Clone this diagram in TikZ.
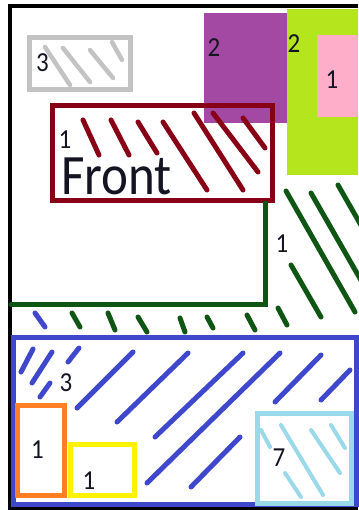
\documentclass[tikz,border=0pt]{standalone}
\usepackage{fontspec}
\setmainfont{Carlito}
\usetikzlibrary{calc}
\definecolor{pgray}{HTML}{C3C3C3}
\definecolor{ppurple}{HTML}{A349A4}
\definecolor{plime}{HTML}{B5E61D}
\definecolor{ppink}{HTML}{FFAEC9}
\definecolor{pmaroon}{HTML}{880015}
\definecolor{pgreen}{RGB}{15,85,20}
\definecolor{pblue}{HTML}{3F48CC}
\definecolor{plblue}{HTML}{99D9EA}
\definecolor{porange}{HTML}{FF7F27}
\definecolor{pyellow}{HTML}{FFF200}
\definecolor{ptext}{RGB}{20,20,35}
\tikzset{
  num/.style={inner sep=0pt, text=ptext, font=\fontsize{25}{25}\selectfont, yscale=1.1},
  hatch/.style={line width=5pt, line cap=round},
}
\begin{document}
\begin{tikzpicture}[x=1pt,y=-1pt]
\useasboundingbox (0,0) rectangle (358,510);
\fill[white] (0,0) rectangle (358,510);
% black frame
\draw[line width=4pt] (358,6.5) -- (9.5,6.5) -- (9.5,508.5) -- (358,508.5);
% gray box
\draw[pgray, line width=5pt] (29.5,37.5) rectangle (130.5,89.5);
\draw[hatch, pgray, line width=4.5pt] (45,47) -- (70,85);
\draw[hatch, pgray, line width=4.5pt] (63,48) -- (90,82);
\draw[hatch, pgray, line width=4.5pt] (90,50) -- (113,78);
\draw[hatch, pgray, line width=4.5pt] (112,42) -- (122,60);
\node[num] (g3) at (42.5,62.5) {3};
% purple, lime, pink
\fill[ppurple] (204,13) rectangle (287,123);
\fill[plime] (287,9) rectangle (358,175);
\fill[ppink] (317,35) rectangle (358,117);
\node[num] (p2) at (214,48) {2};
\node[num] (l2) at (294,44) {2};
\node[num] (k1) at (332,80) {1};
% maroon front box
\draw[pmaroon, line width=5pt] (52.5,105.5) rectangle (272.5,201);
\draw[hatch, pmaroon] (83,120) -- (99,155);
\draw[hatch, pmaroon] (111,120) -- (129,155);
\draw[hatch, pmaroon] (138,122) -- (157,153);
\draw[hatch, pmaroon] (163,122) -- (207,190);
\draw[hatch, pmaroon] (194,113) -- (243,190);
\draw[hatch, pmaroon] (213,113) -- (258,172);
\draw[hatch, pmaroon] (243,118) -- (265,148);
\node[num] (m1) at (65,140) {1};
\node[inner sep=0pt, text=ptext, font=\fontsize{51}{51}\selectfont, yscale=1.12, anchor=base west] (front) at (61,195) {Front};
% green L and hatch
\draw[pgreen, line width=5pt, line cap=round] (265.5,203) -- (265.5,304.5) -- (11,304.5);
\draw[hatch, pgreen] (286,191) -- (355,312);
\draw[hatch, pgreen] (311,193) -- (362,282);
\draw[hatch, pgreen] (338,185) -- (362,227);
\draw[hatch, pgreen] (291,265) -- (321,317);
\draw[hatch, pgreen] (278,308) -- (287,325);
\draw[hatch, pgreen] (247,315) -- (255,330);
\draw[hatch, pgreen] (207,317) -- (213,328);
\draw[hatch, pgreen] (180,318) -- (185,332);
\draw[hatch, pgreen] (138,317) -- (147,332);
\draw[hatch, pgreen] (108,313) -- (115,330);
\draw[hatch, pgreen] (72,313) -- (80,327);
\draw[hatch, pblue] (35,313) -- (45,327);
\node[num] (gr1) at (282,244) {1};
% blue box
\draw[pblue, line width=5pt] (13,337.5) rectangle (356,504.5);
\draw[hatch, pblue] (33,349) -- (21,372);
\draw[hatch, pblue] (52,352) -- (32,383);
\draw[hatch, pblue] (79,348) -- (68,362);
\draw[hatch, pblue] (50,383) -- (40,397);
\draw[hatch, pblue] (133,352) -- (77,408);
\draw[hatch, pblue] (188,353) -- (117,422);
\draw[hatch, pblue] (243,353) -- (155,437);
\draw[hatch, pblue] (280,353) -- (147,483);
\draw[hatch, pblue] (321,355) -- (275,402);
\draw[hatch, pblue] (350,370) -- (321,400);
\draw[hatch, pblue] (240,437) -- (191,487);
\node[num] (b3) at (66,383) {3};
% orange, yellow boxes
\draw[porange, line width=5pt] (17.5,405.5) rectangle (64.5,495.5);
\node[num] (o1) at (37.5,450) {1};
\draw[pyellow, line width=5pt] (70.5,444.5) rectangle (134.5,495.5);
\node[num] (y1) at (89,481) {1};
% light blue box
\draw[plblue, line width=5pt] (257.5,413.5) rectangle (351,503);
\draw[hatch, plblue, line width=4pt] (261,430) -- (270,447);
\draw[hatch, plblue, line width=4pt] (281,425) -- (323,495);
\draw[hatch, plblue, line width=4pt] (311,430) -- (340,473);
\draw[hatch, plblue, line width=4pt] (331,425) -- (345,448);
\draw[hatch, plblue, line width=4pt] (285,473) -- (301,497);
\node[num] (lb7) at (279,458) {7};
\end{tikzpicture}
\end{document}
